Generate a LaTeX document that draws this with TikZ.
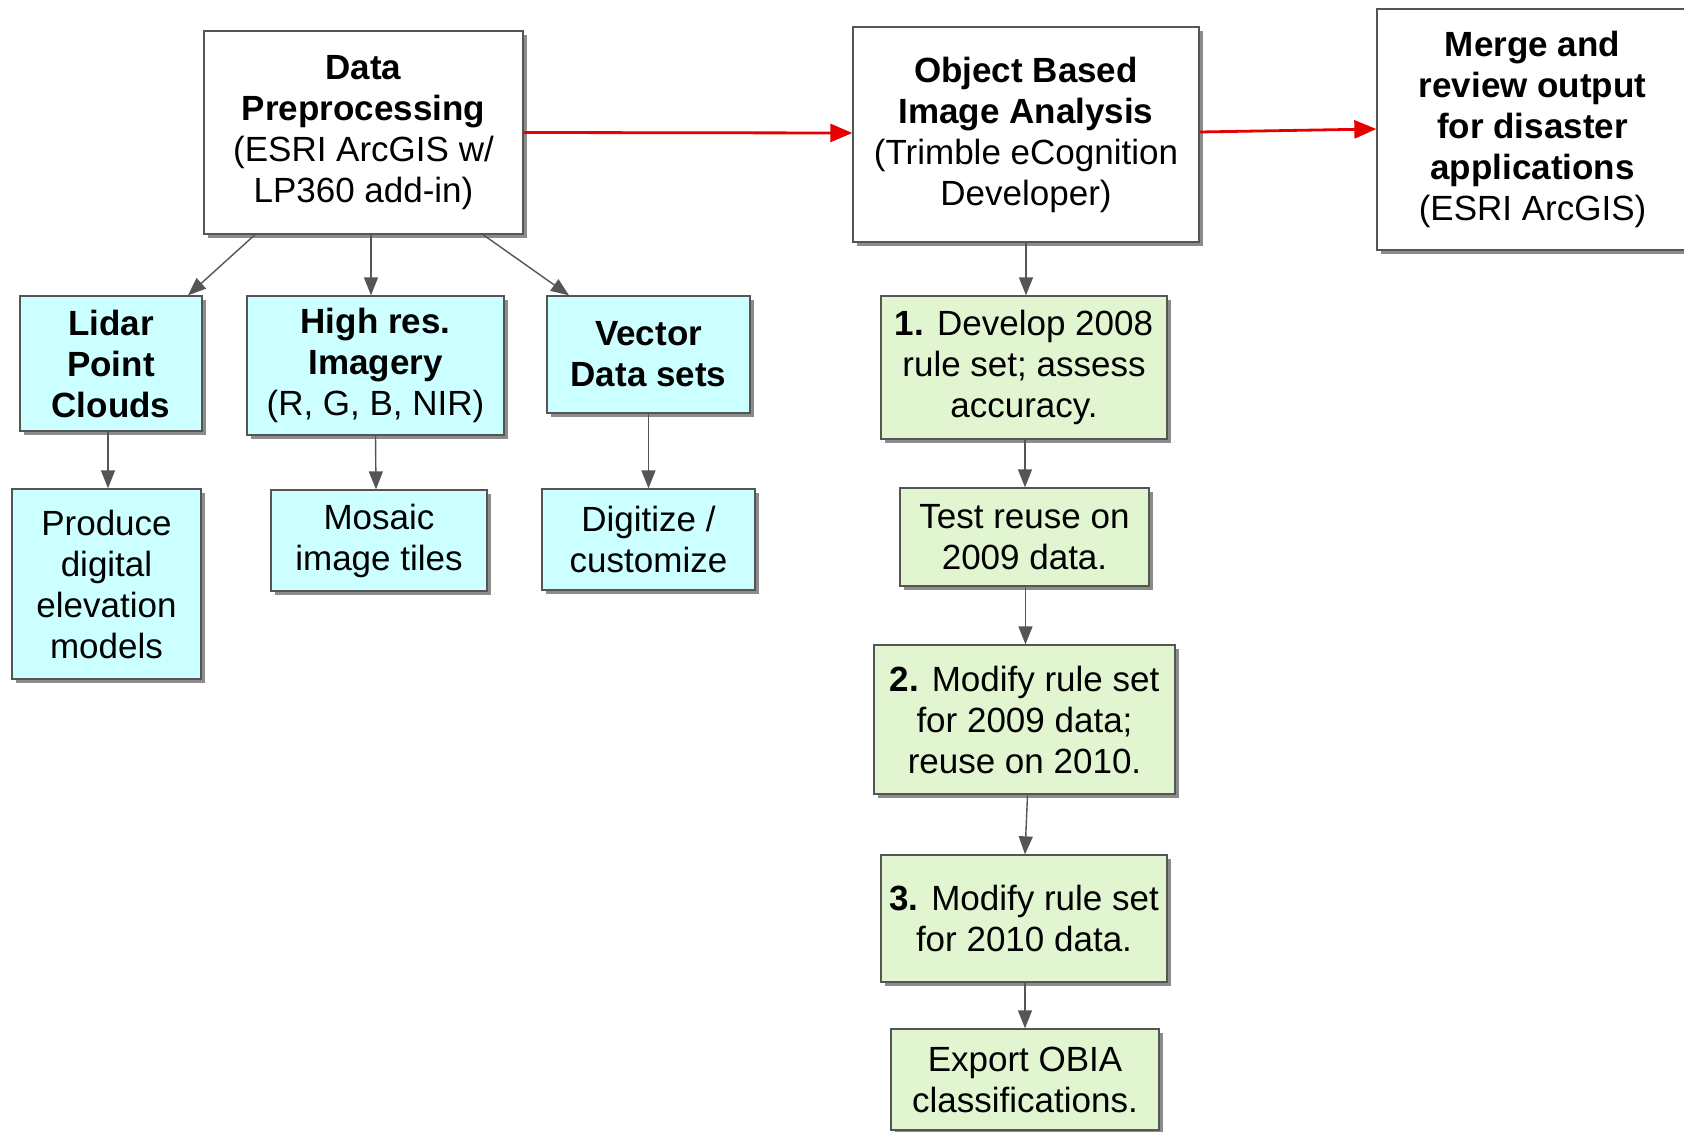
\documentclass[tikz,border=0pt]{standalone}
\usepackage{fontspec}
\setmainfont{Liberation Sans}
\usetikzlibrary{shadows,arrows.meta}
\definecolor{cyanfill}{RGB}{204,255,255}
\definecolor{greenfill}{RGB}{224,245,208}
\definecolor{edgegray}{RGB}{85,85,85}
\definecolor{arrred}{RGB}{230,0,0}
\begin{document}
\begin{tikzpicture}[x=1pt,y=-1pt,
  box/.style={draw=edgegray, line width=1.3pt, align=center, inner sep=0pt,
    font=\fontsize{35}{41}\selectfont,
    drop shadow={shadow xshift=4pt, shadow yshift=-4pt, fill=black!45, opacity=1}},
  whitebox/.style={box, fill=white},
  cyanbox/.style={box, fill=cyanfill},
  greenbox/.style={box, fill=greenfill},
  arr/.style={draw=edgegray, line width=1.4pt, -{Triangle[length=18pt,width=14pt]}},
  redarr/.style={draw=arrred, line width=2.8pt, -{Triangle[length=22pt,width=18pt]}}
]
\useasboundingbox (0,0) rectangle (1684,1132);
\fill[white] (0,0) rectangle (1684,1132);

\node[whitebox, minimum width=319pt, minimum height=203pt] (dp) at (363.5,132.5)
  {\textbf{Data}\\\textbf{Preprocessing}\\(ESRI ArcGIS w/\\LP360 add-in)};
\node[whitebox, minimum width=346pt, minimum height=215pt] (obia) at (1026,134.5)
  {\textbf{Object Based}\\\textbf{Image Analysis}\\(Trimble eCognition\\Developer)};
\node[whitebox, minimum width=311pt, minimum height=241pt] (merge) at (1532.5,129.5)
  {\textbf{Merge and}\\\textbf{review output}\\\textbf{for disaster}\\\textbf{applications}\\(ESRI ArcGIS)};

\node[cyanbox, minimum width=182pt, minimum height=135pt] (lidar) at (111,363.5)
  {\textbf{Lidar}\\\textbf{Point}\\\textbf{Clouds}};
\node[cyanbox, minimum width=257pt, minimum height=139pt] (high) at (375.5,365.5)
  {\textbf{High res.}\\\textbf{Imagery}\\(R, G, B, NIR)};
\node[cyanbox, minimum width=203pt, minimum height=117pt] (vec) at (648.5,354.5)
  {\textbf{Vector}\\\textbf{Data sets}};

\node[cyanbox, minimum width=189pt, minimum height=190pt] (dem) at (106.5,584)
  {Produce\\digital\\elevation\\models};
\node[cyanbox, minimum width=216pt, minimum height=101pt] (mos) at (379,540.5)
  {Mosaic\\image tiles};
\node[cyanbox, minimum width=213pt, minimum height=101pt] (dig) at (648.5,539.5)
  {Digitize /\\customize};

\node[greenbox, minimum width=286pt, minimum height=143pt] (s1) at (1024,367.5)
  {\textbf{1.} Develop 2008\\rule set; assess\\accuracy.};
\node[greenbox, minimum width=249pt, minimum height=98pt] (test) at (1024.5,537)
  {Test reuse on\\2009 data.};
\node[greenbox, minimum width=301pt, minimum height=149pt] (s2) at (1024.5,719.5)
  {\textbf{2.} Modify rule set\\for 2009 data;\\reuse on 2010.};
\node[greenbox, minimum width=286pt, minimum height=127pt] (s3) at (1024,918.5)
  {\textbf{3.} Modify rule set\\for 2010 data.};
\node[greenbox, minimum width=268pt, minimum height=101pt] (exp) at (1025,1079.5)
  {Export OBIA\\classifications.};

% connectors
\draw[arr] ([xshift=-108.5pt]dp.south) -- ([xshift=77pt]lidar.north);
\draw[arr] ([xshift=7.5pt]dp.south) -- ([xshift=-4.5pt]high.north);
\draw[arr] ([xshift=119.5pt]dp.south) -- ([xshift=-79.5pt]vec.north);

\draw[arr] ([xshift=-3pt]lidar.south) -- ([xshift=1.5pt]dem.north);
\draw[arr] (high.south) -- ([xshift=-3pt]mos.north);
\draw[arr] (vec.south) -- (dig.north);

\draw[redarr] (dp.east) -- ([yshift=1.5pt]obia.west);
\draw[redarr] ([yshift=2.5pt]obia.east) -- ([yshift=0.5pt]merge.west);

\draw[arr] (obia.south) -- ([xshift=2pt]s1.north);
\draw[arr] ([xshift=1pt]s1.south) -- ([xshift=0.5pt]test.north);
\draw[arr] ([xshift=1pt]test.south) -- ([xshift=1pt]s2.north);
\draw[arr] ([xshift=3pt]s2.south) -- ([xshift=1pt]s3.north);
\draw[arr] ([xshift=1pt]s3.south) -- (exp.north);
\end{tikzpicture}
\end{document}
